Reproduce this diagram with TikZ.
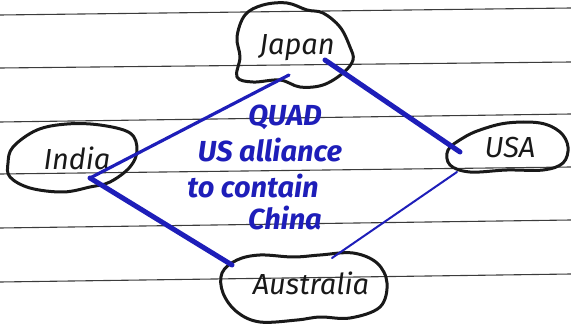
\documentclass[tikz,border=0pt]{standalone}
\usepackage{fontspec}
\setmainfont{Fira Sans}
\usetikzlibrary{calc}
\definecolor{ink}{RGB}{25,25,25}
\definecolor{pen}{RGB}{30,30,185}
\definecolor{rule}{RGB}{60,60,60}
\tikzset{
  label/.style={inner sep=0pt, text=ink, font=\fontsize{29}{32}\selectfont\itshape},
  note/.style={inner sep=0pt, text=pen, font=\fontsize{29}{32}\selectfont\bfseries\itshape},
  blob/.style={draw=ink, line width=3pt, line join=round},
  ruled/.style={draw=rule, line width=1.1pt},
  link/.style={draw=pen, line cap=round},
}
\begin{document}
\begin{tikzpicture}[x=1pt,y=-1pt]
\useasboundingbox (0,0) rectangle (571,326);
% ruled paper
\draw[ruled] (0,15) -- (571,8);
\draw[ruled] (0,68) -- (571,62);
\draw[ruled] (0,122) -- (571,114);
\draw[ruled] (0,174) -- (571,167);
\draw[ruled] (0,228) -- (571,220);
\draw[ruled] (0,282) -- (571,274);
% labels
\node[label] (J) at (297,48) {Japan};
\node[label] (I) at (77,158) {India};
\node[label] (U) at (510,148) {USA};
\node[label] (A) at (311,283) {Australia};
% blobs
\draw[blob] plot[smooth cycle, tension=0.6] coordinates {(245,15) (263,5) (287,3) (307,10) (323,13) (340,27) (350,47) (353,60) (343,73) (323,85) (300,87) (280,80) (253,82) (237,77) (240,57) (237,37)};
\draw[blob] plot[smooth cycle, tension=0.6] coordinates {(13,147) (37,130) (67,124) (100,125) (130,133) (137,150) (130,167) (110,182) (90,187) (63,192) (30,188) (10,177) (8,163)};
\draw[blob] plot[smooth cycle, tension=0.6] coordinates {(448,150) (463,138) (480,130) (507,123) (540,123) (560,132) (568,147) (563,163) (543,170) (507,170) (470,172) (450,165)};
\draw[blob] plot[smooth cycle, tension=0.6] coordinates {(222,273) (237,260) (260,255) (293,257) (320,255) (353,253) (377,263) (387,283) (380,307) (350,318) (320,317) (297,320) (260,322) (237,312) (223,293)};
% connectors
\draw[link, line width=3.2pt] ($(J)+(-8,27)$) -- ($(I)+(13,20)$);
\draw[link, line width=5pt] ($(J)+(28,12)$) -- ($(U)+(-50,4)$);
\draw[link, line width=5pt] ($(I)+(13,20)$) -- ($(A)+(-79,-18)$);
\draw[link, line width=2pt] ($(U)+(-53,24)$) -- ($(A)+(21,-25)$);
% centre note
\node[note] (q1) at (285,117) {QUAD};
\node[note] (q2) at (270,150) {US alliance};
\node[note] (q3) at (253,186) {to contain};
\node[note] (q4) at (285,218) {China};
\end{tikzpicture}
\end{document}
